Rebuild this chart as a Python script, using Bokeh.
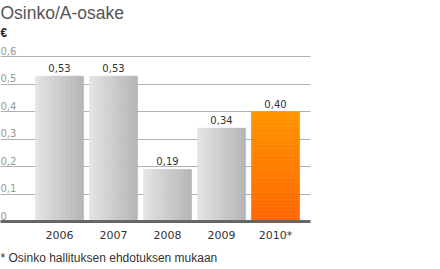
import numpy as np
from bokeh.plotting import figure
from bokeh.models import FixedTicker, Grid, Title, Range1d
from bokeh.core.properties import value
from bokeh.embed import file_html
from bokeh.resources import INLINE

# ---- data ----
years = ["2006", "2007", "2008", "2009", "2010*"]
dividend = [0.53, 0.53, 0.19, 0.34, 0.40]
dividend_labels = ["0,53", "0,53", "0,19", "0,34", "0,40"]
highlight = [False, False, False, False, True]
y_ticks = [0.0, 0.1, 0.2, 0.3, 0.4, 0.5, 0.6]
y_tick_labels = ["0", "0,1", "0,2", "0,3", "0,4", "0,5", "0,6"]
title_text = "Osinko/A-osake"
unit_text = "€"
footnote_text = "* Osinko hallituksen ehdotuksen mukaan"

# ---- styling ----
BAR_W = 0.89
X_START, X_END = -1.0926, 4.648
Y_MAX = 0.66
GRAY_L = np.array([0xe4, 0xe4, 0xe4])
GRAY_R = np.array([0xb4, 0xb4, 0xb4])
ORANGE_TOP = np.array([0xff, 0x95, 0x00])
ORANGE_BOT = np.array([0xff, 0x66, 0x00])

def hexc(c):
    c = np.clip(np.round(c), 0, 255).astype(int)
    return "#%02x%02x%02x" % tuple(c)

p = figure(width=440, height=269, output_backend="svg", toolbar_location=None,
           x_range=Range1d(X_START, X_END), y_range=Range1d(0, Y_MAX),
           y_axis_location=None, min_border_left=0, min_border_right=130,
           min_border_top=0, min_border_bottom=0, title=None)
p.outline_line_color = None
p.background_fill_color = "white"
p.xgrid.visible = False

grid = Grid(dimension=1, ticker=FixedTicker(ticks=y_ticks[1:]),
            grid_line_color="#b0b0b0", grid_line_width=1)
p.add_layout(grid)

# bars with gradient strips
N = 30
l, r, b, t, cols = [], [], [], [], []
for i, (v, hl) in enumerate(zip(dividend, highlight)):
    x0 = i - BAR_W / 2
    if hl:
        for k in range(N):
            f = (k + 0.5) / N
            l.append(x0); r.append(x0 + BAR_W)
            b.append(v * k / N); t.append(v * (k + 1) / N)
            cols.append(hexc(ORANGE_BOT + (ORANGE_TOP - ORANGE_BOT) * f))
    else:
        for k in range(N):
            f = (k + 0.5) / N
            l.append(x0 + BAR_W * k / N); r.append(x0 + BAR_W * (k + 1) / N)
            b.append(0); t.append(v)
            cols.append(hexc(GRAY_L + (GRAY_R - GRAY_L) * f))
p.quad(left=l, right=r, bottom=b, top=t, fill_color=cols, line_color=cols, line_width=0.6)

# value labels
xs = list(range(len(years)))
p.text(x=xs, y=dividend, text=dividend_labels, text_align="center", text_baseline="bottom",
       y_offset=-4, text_font=value("DejaVu Sans"), text_font_size="10px", text_color="#333333")

# y tick labels above gridlines
p.text(x=[X_START] * len(y_ticks), y=y_ticks, text=y_tick_labels, text_align="left",
       text_baseline="bottom", x_offset=0, y_offset=-2, text_font=value("DejaVu Sans"),
       text_font_size="10px", text_color="#999999")

# x axis
ax = p.xaxis[0]
ax.ticker = FixedTicker(ticks=xs)
ax.major_label_overrides = {i: y for i, y in enumerate(years)}
ax.major_tick_line_color = None
ax.minor_tick_line_color = None
ax.axis_line_color = "#666666"
ax.axis_line_width = 3
ax.major_label_standoff = 1
ax.major_label_text_font = "DejaVu Sans"
ax.major_label_text_font_size = "11px"
ax.major_label_text_color = "#333333"

# titles
p.add_layout(Title(text=unit_text, align="left", text_font="Liberation Sans",
                   text_font_size="12px", text_font_style="bold", text_color="#222222",
                   text_line_height=1.0, standoff=2, offset=0), "above")
p.add_layout(Title(text=title_text, align="left", text_font="Liberation Sans",
                   text_font_size="17.5px", text_font_style="normal", text_color="#555555",
                   text_line_height=1.0, standoff=0, offset=0), "above")
p.add_layout(Title(text=footnote_text, align="left", text_font="Liberation Sans",
                   text_font_size="12px", text_font_style="normal", text_color="#333333",
                   text_line_height=1.0, standoff=9, offset=0), "below")

open("out.html", "w").write(file_html(p, INLINE))
